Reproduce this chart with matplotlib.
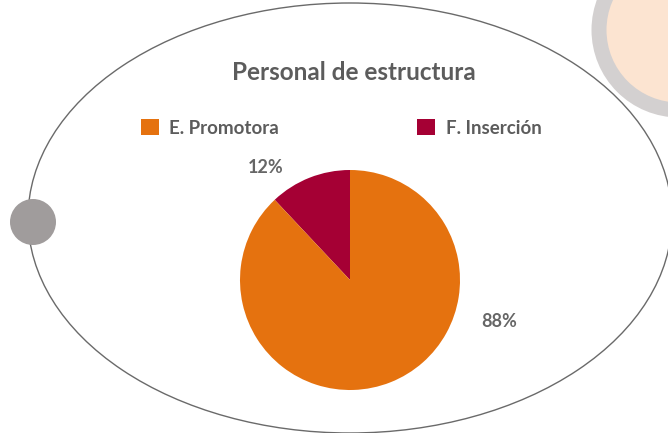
import matplotlib
matplotlib.use("Agg")
import matplotlib.pyplot as plt
from matplotlib.patches import Ellipse, Circle, Patch

# data
labels = ["F. Inserción", "E. Promotora"]
values = [12, 88]
colors = ["#a50034", "#e5720f"]
pct_text = ["12%", "88%"]

W, H = 668, 433
plt.rcParams['font.family'] = ['Lato', 'DejaVu Sans']
txt_color = "#5c5c5c"

fig = plt.figure(figsize=(W / 100, H / 100), dpi=100)

# background decoration in pixel coordinates
bg = fig.add_axes([0, 0, 1, 1])
bg.set_xlim(0, W)
bg.set_ylim(H, 0)
bg.axis("off")
bg.add_patch(Circle((679, 30), 80, facecolor="#fce4d1", edgecolor="#d3d0d0",
                    linewidth=15 * 0.72))
bg.add_patch(Ellipse((350, 218), 644, 430, facecolor="none",
                     edgecolor="#6a6a6a", linewidth=1.0))
bg.add_patch(Circle((33, 222), 23, facecolor="#a09c9c", edgecolor="none"))

bg.text(354, 72, "Personal de estructura", ha="center", va="center",
        fontsize=17.5, fontweight="bold", color=txt_color)

# pie
cx, cy, r = 350, 280, 110
ax = fig.add_axes([(cx - r) / W, (H - cy - r) / H, 2 * r / W, 2 * r / H])
ax.pie(values, colors=colors, startangle=90, counterclock=True,
       wedgeprops=dict(linewidth=0))
ax.set_xlim(-1, 1)
ax.set_ylim(-1, 1)
ax.set_aspect("equal")
ax.text(-0.77, 1.02, pct_text[0], ha="center", va="center", fontsize=13,
        fontweight="bold", color="#666666")
ax.text(1.36, -0.38, pct_text[1], ha="center", va="center", fontsize=13,
        fontweight="bold", color="#666666")

handles = [Patch(facecolor=colors[1], label=labels[1]),
           Patch(facecolor=colors[0], label=labels[0])]
leg = fig.legend(handles=handles, ncol=2, frameon=False, loc="center",
                 bbox_to_anchor=(341 / W, 1 - 128 / H), fontsize=13.5,
                 handlelength=0.95, handleheight=0.95, handletextpad=0.55,
                 columnspacing=7.4)
for t in leg.get_texts():
    t.set_color(txt_color)
    t.set_fontweight("bold")

fig.savefig("out.png", dpi=100)
